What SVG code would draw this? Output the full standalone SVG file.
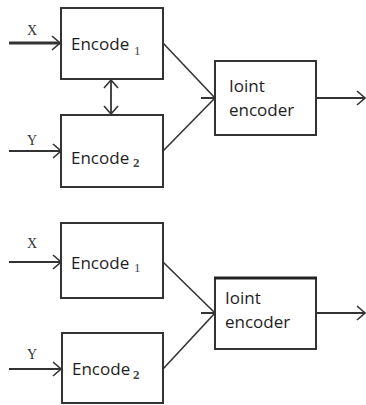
<svg xmlns="http://www.w3.org/2000/svg" width="366" height="405" viewBox="0 0 366 405">
  <defs>
    <marker id="chev" viewBox="0 0 10 16" refX="9" refY="8" markerWidth="10" markerHeight="16" markerUnits="userSpaceOnUse" orient="auto-start-reverse">
      <path d="M1,1 L9,8 L1,15" fill="none" stroke="#333" stroke-width="1.6"/>
    </marker>
  </defs>
  <style>
    .box { fill: #fff; stroke: #333; stroke-width: 2; }
    .lbl { font-family: "Open Sans", "Noto Sans", sans-serif; font-size: 17px; fill: #1e1e1e; }
    .sub { font-family: "Liberation Serif", serif; font-size: 13px; fill: #444; }
    .var { font-family: "Liberation Serif", serif; font-size: 14px; fill: #333; }
    .wire { fill: none; stroke: #333; stroke-width: 1.6; }
    .arrow { fill: none; stroke: #333; stroke-width: 1.8; marker-end: url(#chev); }
  </style>

  <!-- upper system: encoders share information -->
  <g id="connectors-top">
    <line class="arrow" x1="9" y1="43" x2="60" y2="43" style="stroke-width:3.2"/>
    <line class="arrow" x1="9" y1="151" x2="61" y2="151"/>
    <line class="arrow" x1="111" y1="80" x2="111" y2="114" marker-start="url(#chev)"/>
    <line class="wire" x1="163" y1="43" x2="215" y2="98"/>
    <line class="wire" x1="163" y1="151" x2="215" y2="98"/>
    <line class="wire" x1="201" y1="98" x2="215" y2="98" style="stroke-width:2"/>
    <line class="arrow" x1="316" y1="98" x2="365" y2="98"/>
  </g>
  <g id="enc1-top">
    <rect class="box" x="61" y="8" width="102" height="71"/>
    <text class="lbl" x="71" y="50">Encode</text>
    <text class="sub" x="134" y="55">1</text>
  </g>
  <g id="enc2-top">
    <rect class="box" x="61" y="115" width="102" height="72"/>
    <text class="lbl" x="71" y="164">Encode</text>
    <text class="sub" x="133" y="167" font-weight="bold">2</text>
  </g>
  <g id="joint-top">
    <rect class="box" x="215" y="61" width="101" height="74"/>
    <text class="lbl" x="229" y="92">Ioint</text>
    <text class="lbl" x="229" y="116">encoder</text>
  </g>
  <text class="var" x="27" y="35">X</text>
  <text class="var" x="27" y="145">Y</text>

  <!-- lower system: independent encoders -->
  <g id="connectors-bottom">
    <line class="arrow" x1="9" y1="262" x2="61" y2="262"/>
    <line class="arrow" x1="9" y1="369" x2="61" y2="369"/>
    <line class="wire" x1="163" y1="262" x2="215" y2="313"/>
    <line class="wire" x1="163" y1="369" x2="215" y2="313"/>
    <line class="wire" x1="201" y1="313" x2="215" y2="313" style="stroke-width:2"/>
    <line class="arrow" x1="316" y1="313" x2="365" y2="313"/>
  </g>
  <g id="enc1-bottom">
    <rect class="box" x="61" y="223" width="102" height="75"/>
    <text class="lbl" x="71" y="269">Encode</text>
    <text class="sub" x="134" y="272">1</text>
  </g>
  <g id="enc2-bottom">
    <rect class="box" x="62" y="333" width="101" height="70"/>
    <text class="lbl" x="72" y="375">Encode</text>
    <text class="sub" x="133" y="379" font-weight="bold">2</text>
  </g>
  <g id="joint-bottom">
    <rect class="box" x="215" y="278" width="101" height="71"/>
    <line x1="214" y1="278" x2="317" y2="278" stroke="#222" stroke-width="3"/>
    <text class="lbl" x="225" y="304">Ioint</text>
    <text class="lbl" x="225" y="328">encoder</text>
  </g>
  <text class="var" x="27" y="248">X</text>
  <text class="var" x="27" y="359">Y</text>
</svg>
